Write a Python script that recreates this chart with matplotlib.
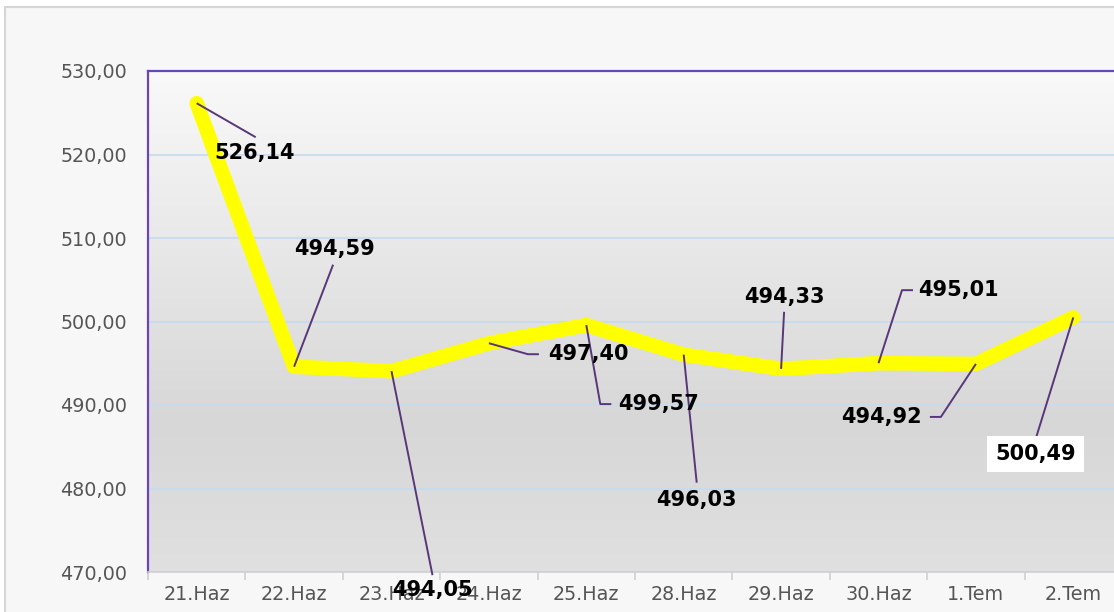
import numpy as np
import matplotlib
matplotlib.use("Agg")
import matplotlib.pyplot as plt
from matplotlib.patches import Rectangle
from matplotlib.colors import LinearSegmentedColormap

# ---- data ----
categories = ["21.Haz", "22.Haz", "23.Haz", "24.Haz", "25.Haz",
              "28.Haz", "29.Haz", "30.Haz", "1.Tem", "2.Tem"]
values = [526.14, 494.59, 494.05, 497.40, 499.57,
          496.03, 494.33, 495.01, 494.92, 500.49]
y_ticks = [470, 480, 490, 500, 510, 520, 530]

# ---- label layout (pixel offsets from the data point, y downward) ----
leader_bends = [
    [(59, 34)],
    [(39, -102)],
    [(41, 204)],
    [(39, 11), (50, 11)],
    [(14, 79), (25, 79)],
    [(13, 128)],
    [(3, -57)],
    [(23.5, -73), (34.5, -73)],
    [(-35, 53), (-46, 53)],
    [(-37, 119.5)],
]
text_offsets = [(58, 50), (40, -118), (41, 219), (99, 11), (72, 79),
                (13, 145), (3, -72), (79.5, -73), (-94, 53), (-38, 136.5)]
boxed = [False] * 9 + [True]

W, H = 1114, 612
fig = plt.figure(figsize=(W / 100, H / 100), dpi=100)
fig.patch.set_facecolor("white")
fig.patches.append(Rectangle((4.5 / W, -0.01), 1.1, (H - 6.5) / H + 0.01,
                             transform=fig.transFigure, facecolor="#f7f7f7",
                             edgecolor="#d6d6d6", linewidth=1.5, zorder=-10))

left, right, top, bottom = 148, 1122, 71, 572
ax = fig.add_axes([left / W, 1 - bottom / H, (right - left) / W, (bottom - top) / H])
ax.set_facecolor("none")

# gradient background
cmap = LinearSegmentedColormap.from_list(
    "bg", [(0.0, "#e0e0e0"), (0.3, "#d7d7d7"), (1.0, "#f9f9f9")])
grad = np.linspace(0, 1, 256).reshape(-1, 1)
ax.imshow(grad, extent=[0, 1, 0, 1], transform=ax.transAxes, origin="lower",
          aspect="auto", cmap=cmap, zorder=0)

x = np.arange(len(categories))
ax.set_xlim(-0.5, len(categories) - 0.5)
ax.set_ylim(470, 530)

ax.set_yticks(y_ticks)
ax.set_yticklabels([f"{v:.2f}".replace(".", ",") for v in y_ticks])
ax.set_xticks(x)
ax.set_xticklabels(categories)
ax.set_xticks(np.arange(len(categories) + 1) - 0.5, minor=True)
ax.tick_params(axis="x", which="major", length=0, pad=9, labelsize=13.8,
               labelcolor="#555555")
ax.tick_params(axis="x", which="minor", length=6, width=1.2, color="#d0d0d0")
ax.tick_params(axis="y", length=0, pad=15, labelsize=13.8, labelcolor="#555555")

ax.grid(axis="y", color="#c6dbef", linewidth=1.2, zorder=1)
ax.set_axisbelow(True)

for s in ["left", "top"]:
    ax.spines[s].set_color("#6a44b8")
    ax.spines[s].set_linewidth(1.6)
ax.spines["bottom"].set_color("#d0d0d0")
ax.spines["bottom"].set_linewidth(1.2)
ax.spines["right"].set_visible(False)

ax.plot(x, values, color="#ffff00", linewidth=10.5, solid_capstyle="round",
        solid_joinstyle="round", zorder=3)

fig.canvas.draw()
to_disp = ax.transData
to_data = ax.transData.inverted()
for i, v in enumerate(values):
    px, py = to_disp.transform((x[i], v))
    verts = [(px, py)] + [(px + dx, py - dy) for dx, dy in leader_bends[i]]
    dv = to_data.transform(verts)
    ax.plot(dv[:, 0], dv[:, 1], color="#583678", linewidth=1.4, zorder=4,
            clip_on=False, solid_capstyle="butt")
    tdx, tdy = text_offsets[i]
    tx, ty = to_data.transform((px + tdx, py - tdy))
    kw = {}
    if boxed[i]:
        kw["bbox"] = dict(boxstyle="square,pad=0.38", facecolor="white",
                          edgecolor="none")
    ax.text(tx, ty, f"{v:.2f}".replace(".", ","), ha="center", va="center",
            fontsize=15, fontweight="bold", color="#000000",
            family="DejaVu Sans", zorder=5, clip_on=False, **kw)

fig.savefig("out.png", dpi=100)
